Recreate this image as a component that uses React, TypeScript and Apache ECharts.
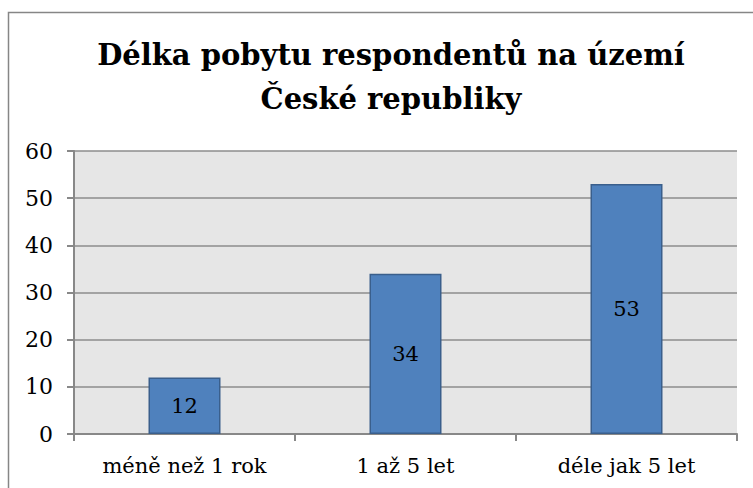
import React, { useEffect, useRef } from "react";
import * as echarts from "echarts";

const titleLines = ["Délka pobytu respondentů na území", "České republiky"];
const categories = ["méně než 1 rok", "1 až 5 let", "déle jak 5 let"];
const values = [12, 34, 53];
const yMin = 0;
const yMax = 60;
const yStep = 10;

const FONT = "DejaVu Serif";

export default function App() {
  const ref = useRef<HTMLDivElement>(null);

  useEffect(() => {
    if (!ref.current) return;
    const chart = echarts.init(ref.current, undefined, { renderer: "svg" });
    chart.setOption({
      animation: false,
      backgroundColor: "#ffffff",
      textStyle: { fontFamily: FONT },
      title: {
        text: titleLines.join("\n"),
        left: 386,
        top: 28,
        textAlign: "center",
        textStyle: {
          fontFamily: FONT,
          fontWeight: "bold",
          fontSize: 29,
          lineHeight: 44,
          color: "#000000",
        },
      },
      graphic: [
        {
          type: "rect",
          shape: { x: 8.5, y: 12.5, width: 800, height: 600 },
          style: { fill: "none", stroke: "#868686", lineWidth: 1.5 },
          silent: true,
          z: -1,
        },
      ],
      grid: {
        left: 74,
        right: 16,
        top: 151,
        bottom: 54,
        show: true,
        backgroundColor: "#e6e6e6",
        borderWidth: 0,
      },
      xAxis: {
        type: "category",
        data: categories,
        boundaryGap: true,
        axisLine: { show: true, lineStyle: { color: "#888888", width: 2 } },
        axisTick: {
          show: true,
          alignWithLabel: false,
          length: 7,
          lineStyle: { color: "#888888", width: 2 },
        },
        axisLabel: {
          color: "#000000",
          fontFamily: FONT,
          fontSize: 21,
          margin: 21,
        },
        splitLine: { show: false },
      },
      yAxis: {
        type: "value",
        min: yMin,
        max: yMax,
        interval: yStep,
        axisLine: { show: true, lineStyle: { color: "#888888", width: 2 } },
        axisTick: {
          show: true,
          length: 7,
          lineStyle: { color: "#888888", width: 2 },
        },
        axisLabel: {
          color: "#000000",
          fontFamily: FONT,
          fontSize: 22,
          margin: 21,
        },
        splitLine: { show: true, lineStyle: { color: "#8c8c8c", width: 1.5 } },
      },
      series: [
        {
          type: "bar",
          data: values,
          barWidth: 72,
          itemStyle: {
            color: "#4f81bd",
            borderColor: "#3a5f8c",
            borderWidth: 1.5,
          },
          label: {
            show: true,
            position: "inside",
            color: "#000000",
            fontFamily: FONT,
            fontSize: 21,
          },
        },
      ],
    });
    return () => chart.dispose();
  }, []);

  return (
    <div
      ref={ref}
      style={{ position: "absolute", left: 0, top: 0, width: 753, height: 488 }}
    />
  );
}
